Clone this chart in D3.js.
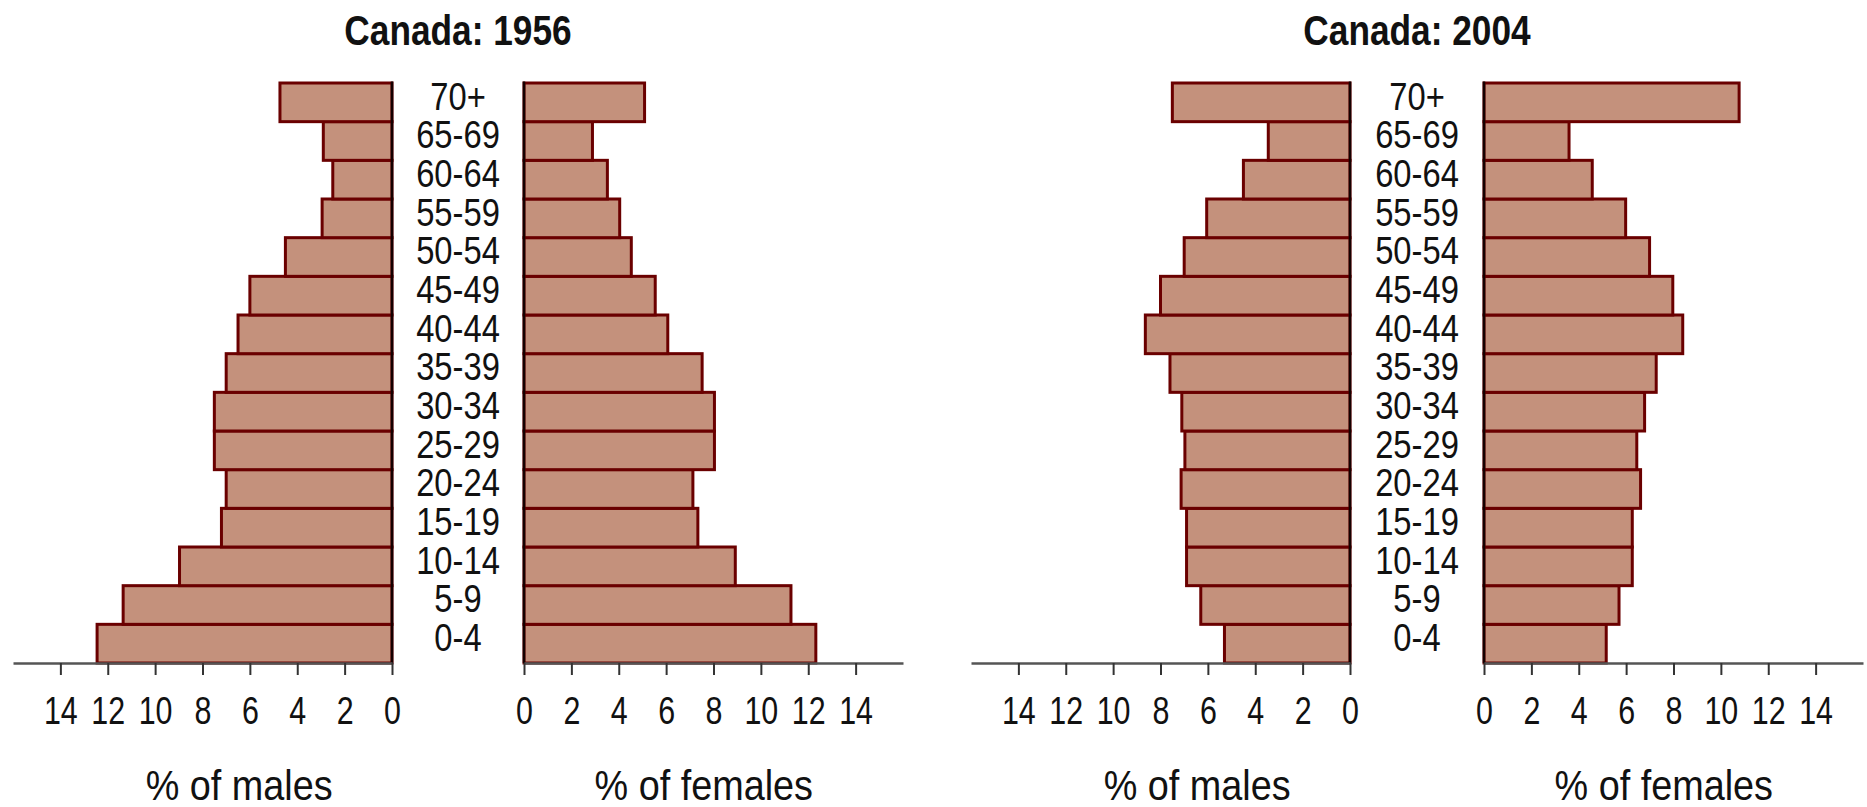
<!DOCTYPE html>
<html>
<head>
<meta charset="utf-8">
<script src="https://cdn.jsdelivr.net/npm/d3@7"></script>
<style>
  body { margin: 0; background: #fff; }
  svg text { font-family: 'Liberation Sans', Arial, sans-serif; fill: #111; }
</style>
</head>
<body>
<svg class="chart"></svg>
<script>
// age groups, bottom to top
const ages = ['0-4','5-9','10-14','15-19','20-24','25-29','30-34','35-39','40-44','45-49','50-54','55-59','60-64','65-69','70+'];
const male1956   = [12.45, 11.35, 8.97, 7.2, 7.0, 7.5, 7.5, 7.0, 6.5, 6.0, 4.5, 2.95, 2.5, 2.9, 4.73];
const female1956 = [12.32, 11.27, 8.92, 7.34, 7.13, 8.04, 8.04, 7.52, 6.07, 5.54, 4.53, 4.04, 3.52, 2.89, 5.09];
const male2004   = [5.3, 6.3, 6.9, 6.9, 7.13, 6.97, 7.1, 7.6, 8.64, 8.0, 7.0, 6.05, 4.5, 3.45, 7.5];
const female2004 = [5.16, 5.7, 6.26, 6.26, 6.61, 6.45, 6.78, 7.27, 8.39, 7.97, 6.99, 5.98, 4.57, 3.59, 10.77];
const tickValues = [0, 2, 4, 6, 8, 10, 12, 14];
const titles = ['Canada: 1956', 'Canada: 2004'];

const svg_width = 1867, svg_height = 807;
const top_y = 83, axis_y = 663;
const side_width = 379;   // 16 units
const fill = '#c4917c', edge = '#6a0000';

const chart = d3.select('.chart')
  .attr('width', svg_width)
  .attr('height', svg_height);

const y = d3.scaleBand()
  .domain(ages.slice().reverse())
  .range([top_y, axis_y]);

// narrow text: squeeze horizontally around the anchor point
function narrowText(sel, x, yy, size, sx, txt) {
  return sel.append('text')
    .attr('transform', 'translate(' + x + ',' + yy + ') scale(' + sx + ',1)')
    .attr('text-anchor', 'middle')
    .style('font-size', size + 'px')
    .text(txt);
}

const panels = [
  {title: titles[0], male: male1956, female: female1956, mz: 392, fz: 524},
  {title: titles[1], male: male2004, female: female2004, mz: 1350, fz: 1484},
];

panels.forEach(p => {
  const xm = d3.scaleLinear().domain([0, 16]).range([p.mz, p.mz - side_width]);
  const xf = d3.scaleLinear().domain([0, 16]).range([p.fz, p.fz + side_width]);
  const mid = (p.mz + p.fz) / 2;
  const g = chart.append('g');

  // title
  narrowText(g, mid, 45, 43, 0.82, p.title).style('font-weight', 'bold');

  // bars
  [[p.male, xm], [p.female, xf]].forEach(([vals, x]) => {
    g.selectAll(null)
      .data(vals)
      .enter()
      .append('rect')
      .attr('x', d => Math.min(x(0), x(d)))
      .attr('y', (d, i) => y(ages[i]))
      .attr('width', d => Math.abs(x(d) - x(0)))
      .attr('height', y.bandwidth())
      .style('fill', fill)
      .style('stroke', edge)
      .style('stroke-width', 3);

    // zero line
    g.append('line')
      .attr('x1', x(0)).attr('x2', x(0))
      .attr('y1', top_y - 1.5).attr('y2', axis_y)
      .style('stroke', '#150000').style('stroke-width', 2.5);

    // axis
    const ax = d3.axisBottom(x)
      .tickValues(tickValues)
      .tickSize(12)
      .tickPadding(22)
      .tickSizeOuter(0);
    const a = g.append('g')
      .attr('transform', 'translate(0,' + axis_y + ')')
      .call(ax);
    a.select('.domain').style('stroke', '#555').style('stroke-width', 2.5);
    a.selectAll('.tick line').style('stroke', '#333').style('stroke-width', 2);
    a.selectAll('.tick text')
      .attr('transform', 'scale(0.8,1)')
      .style('font-size', '38px')
      .style('font-family', "'Liberation Sans', Arial, sans-serif")
      .style('fill', '#111');
  });

  // age labels
  g.selectAll(null)
    .data(ages)
    .enter()
    .append('text')
    .attr('transform', d => 'translate(' + mid + ',' + (y(d) + y.bandwidth() - 12) + ') scale(0.84,1)')
    .attr('text-anchor', 'middle')
    .style('font-size', '39px')
    .text(d => d);

  // axis titles
  narrowText(g, (xm(0) + xm(14)) / 2 + 13, 800, 42, 0.9, '% of males');
  narrowText(g, (xf(0) + xf(14)) / 2 + 14, 800, 42, 0.9, '% of females');
});
</script>
</body>
</html>
